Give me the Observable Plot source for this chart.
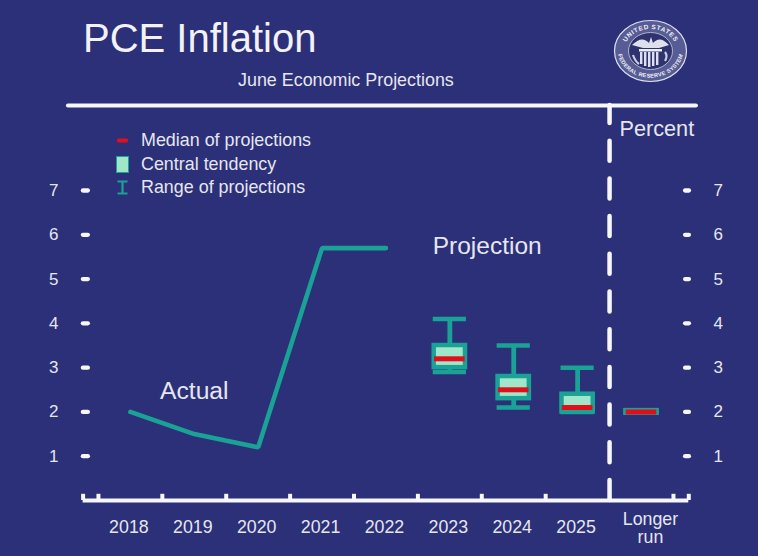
<!DOCTYPE html>
<html><head><meta charset="utf-8">
<script src="https://cdn.jsdelivr.net/npm/d3@7"></script>
<script src="https://cdn.jsdelivr.net/npm/@observablehq/plot@0.6"></script>
<style>
html,body{margin:0;padding:0;background:#2b3078;width:758px;height:556px;overflow:hidden}
body{position:relative;font-family:"Liberation Sans",Arial,sans-serif;color:#f2f2f8}
#title{position:absolute;left:83px;top:14px;font-size:40px;line-height:48px;margin:0;font-weight:400;white-space:nowrap}
#subtitle{position:absolute;left:238px;top:69px;font-size:17.9px;line-height:22px;white-space:nowrap;color:#e6e6f0}
#chart{position:absolute;left:0;top:90px}
#legend{position:absolute;left:112px;top:129px;font-size:17.9px;color:#e6e6f0}
#legend div{height:23.4px;line-height:23px;display:flex;align-items:center;white-space:nowrap}
#legend svg{width:20px;height:23px;margin-right:9px;flex:none}
#seal{position:absolute;left:612px;top:18px}
</style></head><body>
<h1 id="title">PCE Inflation</h1>
<div id="subtitle">June Economic Projections</div>
<div id="chart"></div>
<div id="legend">
<div><svg viewBox="0 0 20 23"><rect x="5" y="9.5" width="11" height="4" rx="1.5" fill="#e0101a"/></svg>Median of projections</div>
<div><svg viewBox="0 0 20 23"><rect x="4.5" y="3.5" width="12" height="16" fill="#a0e6c8" stroke="#1aa296" stroke-width="1"/></svg>Central tendency</div>
<div><svg viewBox="0 0 20 23"><path d="M5.5 5.5H15.5M10.5 5.5V17.5M5.5 17.5H15.5" stroke="#1aa296" stroke-width="2.2" fill="none"/></svg>Range of projections</div>
</div>
<svg id="seal" width="78" height="66" viewBox="0 0 78 66">
<defs>
<path id="sealTop" d="M12 33A26.5 22 0 0 1 65 33"/>
<path id="sealBot" d="M7.5 22A33 28 0 1 0 69.5 22"/>
</defs>
<ellipse cx="38.5" cy="33" rx="36" ry="30.5" fill="#575c94" stroke="#dfe0ee" stroke-width="1.2"/>
<ellipse cx="38.5" cy="33" rx="22" ry="18.5" fill="#2e3370" stroke="#c9cbe0" stroke-width=".8"/>
<text font-family="Liberation Sans" font-size="6.4" font-weight="700" fill="#f0f0f8" letter-spacing=".6"><textPath href="#sealTop" startOffset="50%" text-anchor="middle">UNITED STATES</textPath></text>
<text font-family="Liberation Sans" font-size="5.6" font-weight="700" fill="#f0f0f8" letter-spacing=".3"><textPath href="#sealBot" startOffset="50%" text-anchor="middle">FEDERAL RESERVE SYSTEM</textPath></text>
<path d="M20 27Q30 17 37 25L39 19L41 25Q48 17 57 27L47 30H31Z" fill="#dfe0ee"/>
<path d="M27 31H50V33.5H27Z" fill="#eeeef6"/>
<path d="M28 34h2.4v12h-2.4zM32 34h2.4v14h-2.4zM36 34h2.4v15h-2.4zM40 34h2.4v14h-2.4zM44 34h2.4v13h-2.4z" fill="#dfe0ee"/>
<path d="M21 37q2 6 6 9M53 34q3 4 0 9" stroke="#c9cbe0" stroke-width="2.2" fill="none"/>
</svg>
<script>
const yearTicks = [2018, 2019, 2020, 2021, 2022, 2023, 2024, 2025];
const longerRunLabelX = 2026.14;
const longerRunLabel = "Longer\nrun";
const valueTicks = [1, 2, 3, 4, 5, 6, 7];

const actualYears = [2018, 2019, 2020, 2021, 2022];
const actualValues = [2.0, 1.5, 1.2, 5.7, 5.7];

const projYears = [2023, 2024, 2025];
const rangeLow = [2.9, 2.1, 2.0];
const rangeHigh = [4.1, 3.5, 3.0];
const centralX = [2023, 2024, 2025, 2026];
const centralLow = [3.0, 2.3, 2.0, 1.97];
const centralHigh = [3.5, 2.8, 2.4, 2.03];
const medianX = [2023, 2024, 2025, 2026];
const medianValues = [3.2, 2.5, 2.1, 2.0];

const axisTicks = [2017.5, 2018.5, 2019.5, 2020.5, 2021.5, 2022.5, 2023.5, 2024.5, 2026.5, 2017.26, 2026.74];

const white = "#f6f6fb", text = "#e6e6f0", teal = "#1aa296", pale = "#a0e6c8", red = "#e0101a";

const actual = actualYears.map((x, i) => ({x, y: actualValues[i]}));
const range = projYears.map((x, i) => ({x, lo: rangeLow[i], hi: rangeHigh[i]}));
const central = centralX.map((x, i) => ({x, lo: centralLow[i], hi: centralHigh[i]}));
const median = medianX.map((x, i) => ({x, y: medianValues[i]}));

const X0 = 2017, X1 = 2026.892, Ytop = 8.92;

const plot = Plot.plot({
  width: 758, height: 466,
  marginLeft: 66, marginRight: 60, marginTop: 15, marginBottom: 56,
  style: {background: "transparent", fontFamily: "'Liberation Sans',Arial,sans-serif", overflow: "visible"},
  x: {domain: [X0, X1]},
  y: {domain: [0, Ytop]},
  marks: [
    // Frame: header rule, dashed divider, baseline
    Plot.ruleY([Ytop], {x1: 2017.03, x2: 2026.86, stroke: white, strokeWidth: 4, strokeLinecap: "round"}),
    Plot.ruleX([2025.5], {y1: 0, y2: Ytop, stroke: white, strokeWidth: 4.5, strokeLinecap: "round", strokeDasharray: "20 17.7"}),
    Plot.ruleY([0], {x1: 2017.26, x2: 2026.74, stroke: white, strokeWidth: 4}),
    Plot.ruleX(axisTicks, {y1: 0, y2: 0.14, stroke: white, strokeWidth: 4}),
    // Value ticks both sides
    Plot.ruleY(valueTicks, {x1: 2017.264, x2: 2017.342, stroke: white, strokeWidth: 4.3, strokeLinecap: "round"}),
    Plot.ruleY(valueTicks, {x1: 2026.69, x2: 2026.75, stroke: white, strokeWidth: 4.3, strokeLinecap: "round"}),
    // Axes
    Plot.axisY({anchor: "left", ticks: valueTicks, tickSize: 0, tickPadding: 8, label: null, fontSize: 17, color: text, stroke: "none"}),
    Plot.axisY({anchor: "right", ticks: valueTicks, tickSize: 0, tickPadding: 15, label: null, fontSize: 17, color: text, stroke: "none"}),
    Plot.axisX({anchor: "bottom", ticks: yearTicks, tickFormat: d => String(d), tickSize: 0, tickPadding: 20, label: null, fontSize: 17.8, color: text, dx: -1.5}),
    Plot.text([longerRunLabel], {x: longerRunLabelX, y: 0, dy: 28, fontSize: 17.8, lineHeight: 1.02, fill: text}),
    // Actual line
    Plot.line(actual, {x: "x", y: "y", stroke: teal, strokeWidth: 4.6, strokeLinejoin: "miter"}),
    // Range
    Plot.ruleX(range, {x: "x", y1: "lo", y2: "hi", stroke: teal, strokeWidth: 4.8}),
    Plot.ruleY(range, {y: "hi", x1: d => d.x - 0.26, x2: d => d.x + 0.26, stroke: teal, strokeWidth: 4.5}),
    Plot.ruleY(range, {y: "lo", x1: d => d.x - 0.26, x2: d => d.x + 0.26, stroke: teal, strokeWidth: 4.5}),
    // Central tendency
    Plot.rect(central, {x1: d => d.x - 0.245, x2: d => d.x + 0.245, y1: "lo", y2: "hi", fill: pale, stroke: teal, strokeWidth: 4.5}),
    // Medians
    Plot.ruleY(median, {y: "y", x1: d => d.x - 0.24, x2: d => d.x + 0.24, stroke: red, strokeWidth: 5}),
    // Annotations
    Plot.text(["Actual"], {x: 2019.0, y: 2.48, fontSize: 24.7, fill: text}),
    Plot.text(["Projection"], {x: 2023.585, y: 5.75, fontSize: 24.5, fill: text}),
    Plot.text(["Percent"], {x: 2026.24, y: 8.38, fontSize: 21.7, fill: text})
  ]
});
document.getElementById("chart").appendChild(plot);
</script>
</body></html>
